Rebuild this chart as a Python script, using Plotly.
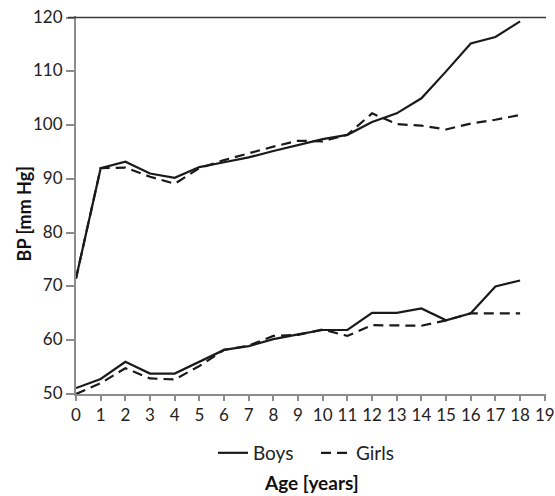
import plotly.graph_objects as go

ages = list(range(0, 19))
boys_sys = [71.5, 92, 93.2, 91, 90.2, 92.2, 93.1, 94, 95.2, 96.3, 97.4, 98.2, 100.6, 102.2, 105, 110, 115.2, 116.4, 119.3]
girls_sys = [71.5, 92, 92.1, 90.4, 89.1, 92, 93.5, 94.8, 96, 97.1, 97, 98.2, 102.2, 100.2, 99.9, 99.2, 100.3, 101, 101.9]
boys_dia = [51.1, 52.8, 56, 53.8, 53.8, 56, 58.2, 58.9, 60.2, 61.1, 61.9, 61.9, 65.1, 65.1, 65.9, 63.7, 65, 70, 71.1]
girls_dia = [50, 52, 54.8, 52.9, 52.7, 55.2, 58.2, 59, 60.8, 61, 62, 60.8, 62.8, 62.8, 62.7, 63.7, 65, 65, 65]

x_ticks = list(range(0, 20))
y_ticks = [50, 60, 70, 80, 90, 100, 110, 120]

line_col = "#1a1a1a"
axis_col = "#8c8c8c"
font_fam = "Lato, 'Open Sans', sans-serif"

fig = go.Figure()
fig.add_trace(go.Scatter(x=ages, y=boys_sys, mode="lines", name="Boys",
                         line=dict(color=line_col, width=2.2), legendgroup="b"))
fig.add_trace(go.Scatter(x=ages, y=boys_dia, mode="lines", name="Boys", showlegend=False,
                         line=dict(color=line_col, width=2.2), legendgroup="b"))
fig.add_trace(go.Scatter(x=ages, y=girls_sys, mode="lines", name="Girls",
                         line=dict(color=line_col, width=2.2, dash="10px,6px"), legendgroup="g"))
fig.add_trace(go.Scatter(x=ages, y=girls_dia, mode="lines", name="Girls", showlegend=False,
                         line=dict(color=line_col, width=2.2, dash="10px,6px"), legendgroup="g"))

fig.add_shape(type="line", xref="paper", yref="y", x0=-0.017, x1=1.0, y0=120, y1=120,
              line=dict(color="#3a3a3a", width=1.5))

fig.update_layout(
    width=555, height=496,
    margin=dict(l=76, r=9, t=16, b=102, autoexpand=False),
    paper_bgcolor="white", plot_bgcolor="white",
    font=dict(family=font_fam, size=17, color="#222"),
    showlegend=True,
    hovermode=False,
    legend=dict(orientation="h", x=0.5106, xanchor="center", y=-0.156, yanchor="middle",
                font=dict(size=19, family=font_fam, color="#222"), itemwidth=30,
                entrywidth=58, tracegroupgap=0),
    xaxis=dict(range=[0, 19.05], tickvals=x_ticks, ticktext=[str(v) for v in x_ticks],
               showgrid=False, zeroline=False, showline=True, linecolor=axis_col, linewidth=2,
               ticks="outside", ticklen=5, tickwidth=1.5, tickcolor=axis_col, automargin=False,
               ticklabeloverflow="allow",
               tickfont=dict(size=17, family=font_fam, color="#222")),
    yaxis=dict(range=[50, 120.3], tickvals=y_ticks, showgrid=False, zeroline=False,
               showline=True, linecolor=axis_col, linewidth=2, automargin=False,
               ticks="outside", ticklen=8, tickwidth=1.5, tickcolor=axis_col,
               ticklabelshift=-1, ticklabeloverflow="allow",
               tickfont=dict(size=17, family=font_fam, color="#222")),
    annotations=[
        dict(text="<b>Age [years]</b>", xref="paper", yref="paper", x=0.5, y=-0.2354,
             xanchor="center", yanchor="middle", showarrow=False,
             font=dict(size=19, family=font_fam, color="#111")),
        dict(text="<b>BP [mm Hg]</b>", xref="paper", yref="paper", x=-0.1106, y=0.475,
             xanchor="center", yanchor="middle", showarrow=False, textangle=-90,
             font=dict(size=18, family=font_fam, color="#111")),
    ],
)

# remove the page's default 8px body margin so the figure fills the window exactly
fig.write_html("out.html", config={"displayModeBar": False},
               post_script="document.body.style.margin='0';")
